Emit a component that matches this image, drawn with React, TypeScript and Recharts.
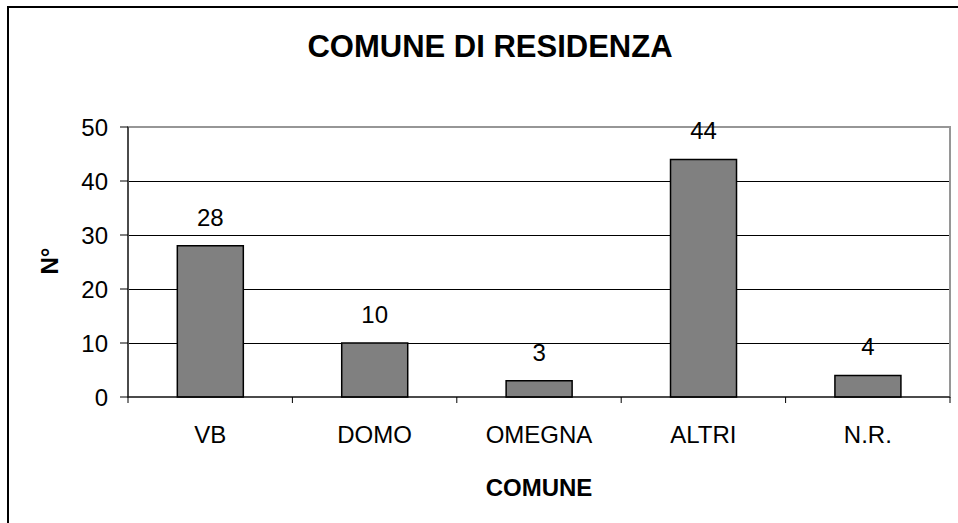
import { BarChart, Bar, XAxis, YAxis, CartesianGrid, LabelList, ReferenceArea } from 'recharts';

const categories = ['VB', 'DOMO', 'OMEGNA', 'ALTRI', 'N.R.'];
const counts = [28, 10, 3, 44, 4];
const yTicks = [0, 10, 20, 30, 40, 50];
const gridValues = [10, 20, 30, 40];

const FONT = "'Liberation Sans', Arial, sans-serif";

const data = categories.map((comune, i) => ({ comune, n: counts[i] }));

// category label + tick marks at the band edges (Excel style)
function CategoryTick(props: any) {
  const { x, y, payload, index, width, visibleTicksCount } = props;
  const half = width / visibleTicksCount / 2;
  const last = index === visibleTicksCount - 1;
  return (
    <g>
      <line x1={x - half} x2={x - half} y1={y - 6} y2={y} stroke="#000" />
      {last && <line x1={x + half} x2={x + half} y1={y - 6} y2={y} stroke="#000" />}
      <text x={x} y={y + 40} textAnchor="middle" fontSize={24} fontFamily={FONT} fill="#000">
        {payload.value}
      </text>
    </g>
  );
}

export default function App() {
  return (
    <div style={{ position: 'absolute', left: 0, top: 0, width: 958, height: 523, overflow: 'hidden', background: '#fff' }}>
      <div style={{ position: 'absolute', left: 7, top: 6, width: 1000, height: 600, borderLeft: '2px solid #000', borderTop: '2px solid #000' }} />
      <svg width={958} height={80} style={{ position: 'absolute', left: 0, top: 0 }}>
        <text x={490} y={57} textAnchor="middle" fontSize={31} fontWeight="bold" fontFamily={FONT} fill="#000">
          COMUNE DI RESIDENZA
        </text>
      </svg>
      <div style={{ position: 'absolute', left: 0, top: 0 }}>
        <BarChart width={958} height={523} data={data} margin={{ top: 127, right: 8, bottom: 0, left: 0 }} barCategoryGap="30%">
          <CartesianGrid vertical={false} horizontalValues={gridValues} stroke="#000" strokeWidth={1} shapeRendering="crispEdges" />
          <ReferenceArea y1={0} y2={50} fill="none" stroke="#969696" strokeWidth={2} />
          <XAxis
            dataKey="comune"
            height={126}
            tickSize={6}
            tickMargin={0}
            tickLine={false}
            axisLine={{ stroke: '#000' }}
            tick={<CategoryTick />}
            interval={0}
            label={{ value: 'COMUNE', position: 'insideBottom', offset: 27, fontSize: 24, fontWeight: 'bold', fontFamily: FONT, fill: '#000' }}
          />
          <YAxis
            width={128}
            domain={[0, 50]}
            ticks={yTicks}
            tickSize={8}
            tickMargin={12}
            axisLine={{ stroke: '#000' }}
            tickLine={{ stroke: '#000' }}
            tick={{ fontSize: 24, fontFamily: FONT, fill: '#000' }}
            label={{
              value: 'N°',
              content: () => (
                <text x={58} y={261} transform="rotate(-90 58 261)" textAnchor="middle" fontSize={24} fontWeight="bold" fontFamily={FONT} fill="#000">
                  N°
                </text>
              ),
            }}
          />
          <Bar dataKey="n" fill="#808080" stroke="#000" strokeWidth={1.5} isAnimationActive={false}>
            <LabelList dataKey="n" position="top" offset={20} fontSize={24} fontFamily={FONT} fill="#000" />
          </Bar>
        </BarChart>
      </div>
    </div>
  );
}
